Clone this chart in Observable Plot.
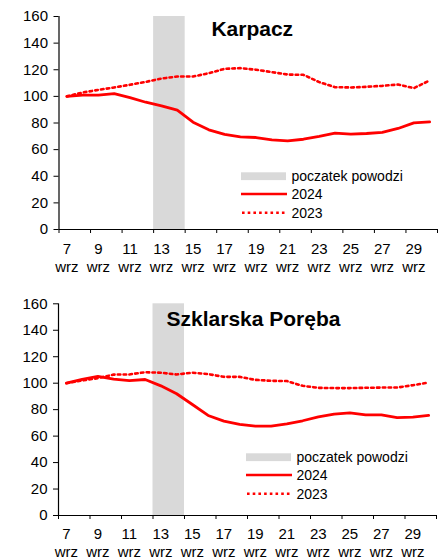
<!DOCTYPE html>
<html><head><meta charset="utf-8">
<script src="https://cdn.jsdelivr.net/npm/d3@7"></script>
<script src="https://cdn.jsdelivr.net/npm/@observablehq/plot@0.6"></script>
<style>
body{margin:0;background:#fff;font-family:"Liberation Sans",Arial,sans-serif;}
.panel{position:relative;width:446px;overflow:hidden;}
.legend{position:absolute;overflow:visible;}
</style></head><body><div id="chart"></div>
<script>
const days = [7,8,9,10,11,12,13,14,15,16,17,18,19,20,21,22,23,24,25,26,27,28,29,30];
const labelDays = [7,9,11,13,15,17,19,21,23,25,27,29];
const yTicks = [0,20,40,60,80,100,120,140,160];
const floodDays = [13,14];
const monthLabel = "wrz";
const legendLabels = ["poczatek powodzi","2024","2023"];

const karpacz2024 = [100,101,101,102,99,95.6,92.9,89.6,80.6,74.9,71.4,69.6,69.1,67.4,66.6,67.8,69.9,72.4,71.6,72.1,72.9,75.9,80.1,80.9];
const karpacz2023 = [100,102.9,104.9,106.7,108.7,110.9,113.4,114.9,114.9,117.4,120.7,121.2,120,118.2,116.4,116.2,110.7,106.9,106.7,107.2,107.9,108.9,106.2,111.9];
const szklarska2024 = [100,102.8,105.1,103,102,102.8,98,92,83.9,75.6,71.3,68.8,67.5,67.5,69.3,71.6,74.6,76.6,77.6,76.1,76,74,74.4,75.6];
const szklarska2023 = [100,102,103.8,106.5,106.6,108.3,107.9,106.6,107.9,106.9,104.8,104.8,102.5,101.8,101.6,98,96.5,96.3,96.3,96.5,96.7,96.7,98.5,100.5];

const RED = "#ff0000", GREY = "#d9d9d9";

function makePanel(cfg) {
  const rows = days.map((d, i) => ({x: d + 0.5, a: cfg.v2024[i], b: cfg.v2023[i]}));
  const bounds = d3.range(days[0], days[days.length - 1] + 2, 2);
  const plot = Plot.plot({
    width: 446,
    height: cfg.height,
    marginTop: cfg.mt, marginBottom: cfg.mb, marginLeft: cfg.ml, marginRight: cfg.mr,
    style: {fontFamily: '"Liberation Sans", Arial, sans-serif', fontSize: "15px", color: "black", background: "white", overflow: "visible"},
    x: {domain: [days[0], days[days.length - 1] + 1], axis: null},
    y: {domain: [0, 160], axis: null},
    marks: [
      Plot.rect([floodDays], {x1: d => d[0], x2: d => d[d.length - 1] + 1, y1: 0, y2: 160, fill: GREY}),
      Plot.line(rows, {x: "x", y: "b", stroke: RED, strokeWidth: 2.6, strokeDasharray: "2.6,3.2"}),
      Plot.line(rows, {x: "x", y: "a", stroke: RED, strokeWidth: 2.8}),
      Plot.ruleY([0], {stroke: "black", strokeWidth: 1.2}),
      Plot.ruleX([days[0]], {stroke: "black", strokeWidth: 1.2}),
      Plot.axisY(yTicks, {tickSize: 5, tickPadding: 6, fontSize: 15, stroke: "black", label: null, tickFormat: d => String(d)}),
      Plot.axisX(bounds, {tickSize: 4, stroke: "black", label: null, tickFormat: () => ""}),
      Plot.axisX(labelDays.map(d => d + 0.5), {tickSize: 0, tickPadding: cfg.tp, fontSize: 15, lineHeight: 1.2, label: null, tickFormat: d => `${d - 0.5}\n${monthLabel}`}),
      Plot.text([cfg.title], {frameAnchor: "top", dx: cfg.tdx, dy: cfg.tdy, fontSize: 21, fontWeight: "bold", lineAnchor: "middle", fill: "black"})
    ]
  });
  const div = document.createElement("div");
  div.className = "panel";
  div.style.height = cfg.height + "px";
  div.appendChild(plot);
  const ns = "http://www.w3.org/2000/svg";
  const lg = document.createElementNS(ns, "svg");
  lg.setAttribute("class", "legend");
  lg.setAttribute("width", 190); lg.setAttribute("height", 60);
  lg.style.left = cfg.lx + "px"; lg.style.top = cfg.ly + "px";
  const ys = [11.2, 29, 47.7];
  lg.innerHTML = `
    <rect x="0" y="7.3" width="45" height="7.8" fill="${GREY}"/>
    <line x1="0" x2="46" y1="${ys[1]}" y2="${ys[1]}" stroke="${RED}" stroke-width="2.7"/>
    <line x1="1" x2="46" y1="${ys[2]}" y2="${ys[2]}" stroke="${RED}" stroke-width="2.6" stroke-dasharray="2.6,3.1"/>
    ${legendLabels.map((t, i) => `<text x="50.5" y="${ys[i]}" dy="0.35em" font-size="14" font-family="Liberation Sans, Arial, sans-serif" fill="black">${t}</text>`).join("")}
  `;
  div.appendChild(lg);
  return div;
}

const root = document.getElementById("chart");
root.appendChild(makePanel({title: "Karpacz", v2024: karpacz2024, v2023: karpacz2023, height: 280, mt: 16, mb: 51, ml: 58.5, mr: 9, tp: 12, tdx: 4, tdy: 12.5, lx: 240.7, ly: 165}));
root.appendChild(makePanel({title: "Szklarska Poręba", v2024: szklarska2024, v2023: szklarska2023, height: 278, mt: 23.3, mb: 43, ml: 58, mr: 10, tp: 11, tdx: 6, tdy: 15.5, lx: 246, ly: 165.7}));
</script></body></html>
